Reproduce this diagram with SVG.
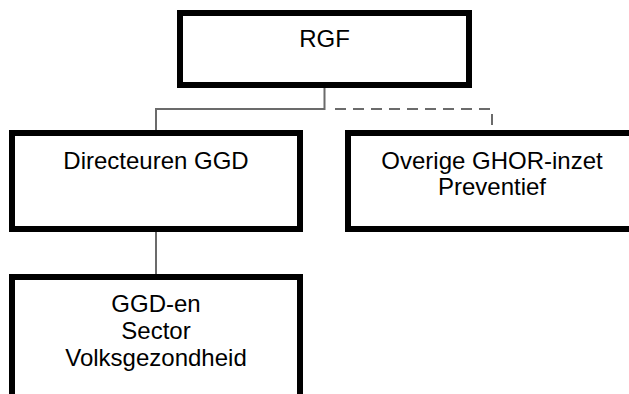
<svg xmlns="http://www.w3.org/2000/svg" width="629" height="394" viewBox="0 0 629 394">
  <style>
    .box { fill: #ffffff; stroke: #000000; stroke-width: 6; }
    .lbl { font-family: "Liberation Sans", Arial, sans-serif; font-size: 24px; fill: #000000; text-anchor: middle; }
    .link { fill: none; stroke: #6b6b6b; stroke-width: 2; }
    .dashed { stroke-dasharray: 11 7; }
  </style>
  <rect width="629" height="394" fill="#ffffff"/>

  <!-- connectors -->
  <g id="connectors">
    <path class="link" d="M324.5,88 V109 H156 V130"/>
    <path class="link dashed" d="M335,109 H492 V130"/>
    <path class="link" d="M156,232 V274"/>
  </g>

  <!-- RGF -->
  <g id="rgf">
    <rect class="box" x="180" y="13" width="289" height="72"/>
    <text class="lbl" x="324.5" y="46.5">RGF</text>
  </g>

  <!-- Directeuren GGD -->
  <g id="directeuren">
    <rect class="box" x="12" y="133" width="288" height="96"/>
    <text class="lbl" x="156" y="168.5">Directeuren GGD</text>
  </g>

  <!-- Overige GHOR-inzet Preventief -->
  <g id="overige">
    <rect class="box" x="348" y="133" width="288" height="96"/>
    <text class="lbl" x="492" y="168.5">Overige GHOR-inzet</text>
    <text class="lbl" x="492" y="195">Preventief</text>
  </g>

  <!-- GGD-en Sector Volksgezondheid -->
  <g id="ggd-en">
    <rect class="box" x="12" y="277" width="288" height="130"/>
    <text class="lbl" x="156" y="311.5">GGD-en</text>
    <text class="lbl" x="156" y="338.5">Sector</text>
    <text class="lbl" x="156" y="365.5">Volksgezondheid</text>
  </g>
</svg>
